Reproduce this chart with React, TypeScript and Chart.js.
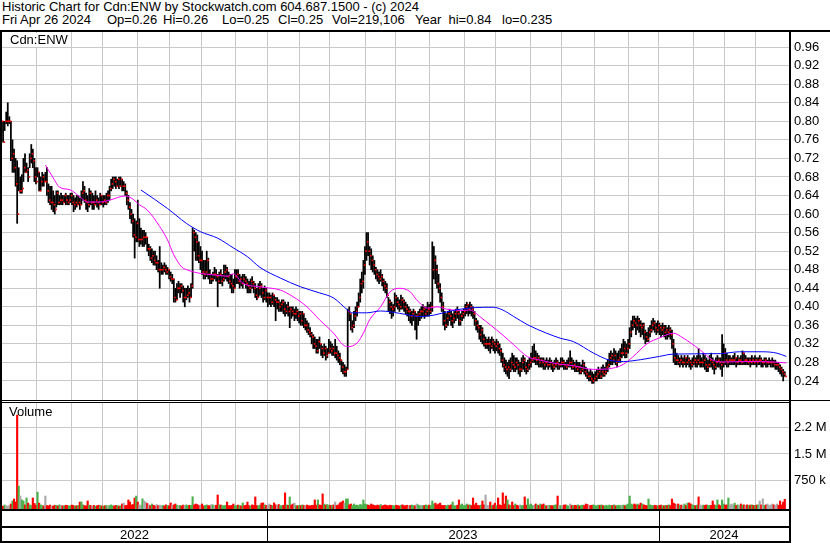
import React, { useEffect, useRef } from 'react';
import { Chart, registerables } from 'chart.js';

Chart.register(...registerables);

const FONT = '"Liberation Sans", Arial, sans-serif';
const GRID = '#c8c8c8';

// Daily bars, Apr 28 2022 .. Apr 26 2024 (index 0..500). Prices in cents.
const HIGH = [
  80,80,80,82,84,81,80,76,74,72,
  71.5,70,68,68.5,72,73,71,70,73,75,
  74,72,70,70,69,68,69,68.5,69,70,
  66.5,66,66,65,64,65,65,64,64.5,64,
  64,64.5,64,64,64.5,64.5,64,63.5,64,64,
  63.5,65,67,66,64.5,64,65.5,65,64.5,64,
  65,64,63.5,64.5,64,64,64,64.5,65,66,
  67.5,68,68,68,67.5,68,68,67.5,67,66.5,
  65,64,62.5,61,60,59,58.5,63,59,57,
  56.5,56.5,56,55,53.5,53,52.5,52,52,51,
  50,53,49.5,49,49.5,49,48.5,48,47.5,47,
  46,44,45,45.5,45,45,44.5,44,44,44.5,
  44,45,57,56.5,56,55.5,54,53,52,50,
  50,52,50.5,48,47,47.5,48.5,48,47,47.5,
  48,47,49,49,48.5,47.5,47,47,46,48,
  48,48,47,46.5,47,47,46.5,46,45.5,46,
  46.5,45.5,45,44,45,45.5,45,44,44.5,44,
  43,43,42.5,43,42.5,42,42,41.5,41,41.5,
  41.5,41,40.5,41,40,40,40,39.5,40,39.5,
  39,39,39,38.5,37.5,37,36.5,35.5,34.5,34,
  33.5,33,33,33.5,32,31.5,32,31.5,31,33,
  32.5,32,31.5,33,31.5,30.5,30,28.5,28,27.5,
  27,39.5,40,38.5,37,39,40,41,43,46,
  47.5,50,53,56,56,53,52.5,51,50,48.5,
  48,47.5,48,47,46,45.5,45,42,41.5,41,
  40.5,43,42.5,42,41.5,42.5,42,41.5,41,40.5,
  40,39.5,39,39.5,39,38.5,39,39.5,40,40.5,
  40,40,41,40.5,41,54,53,51,49,47,
  45,43,41,39,38.5,39,39.5,39,38.5,39,
  39.5,40,39,38.5,39,39.5,40.5,41,40.5,41,
  40.5,40,39,37.5,37,36,36,35.5,34,33.5,
  33,33.5,33,33.5,33,32.5,33,32.5,32,31,
  30,29,28.5,28,28.5,29,30,29.5,29,29,
  28.5,28,29,29.5,29,28,28.5,29,30,31.5,
  32,30.5,30,29.5,29,29,29,28.5,29,28.5,
  29,28.5,28,28.5,29,28.5,28,29,29,28.5,
  28,28.5,29,30.5,29,28.5,28,28.5,28,28,
  27.5,28.5,28,27,26.5,26,26.5,26,25.5,26,
  26.5,27,26.5,27,27.5,27,28,28.5,30,30.5,
  30,31,30.5,30,30.5,31,32,33,32.5,32,
  33,35.5,37,38,38,37.5,38,37.5,37,36.5,
  36.5,35,34.5,35.5,36,37,37.5,37,36.5,37,
  36.5,36,36.5,36,36,35.5,36,35.5,35,33,
  31,30,29.5,29,29.5,29,29.5,29,29.5,29,
  28.5,29,29.5,29,29.5,31,29.5,29,30,29.5,
  29,28.5,29.5,30,29,28.5,29,29.5,29,29,
  34,32,31,30,29.5,29.5,29,29.5,30,29,
  29.5,29,29.5,30.5,30,29.5,29,29,29,29.5,
  29,29.5,29,29,29.5,29,28.5,29,29,28.5,
  29,28.5,29,28.5,28.5,28,28,27.5,27,26.5,
  26,
];

const LOW = [
  77.5,75.5,78,79.5,79,79.5,71.5,69,69,66,
  58,65,64.5,64.5,67,69,69,67,70,71,
  70,67,66.5,68,65,65,66,66,67,64,
  62.5,62,61,60.5,60,61.5,62,62,62,62,
  62.5,62,62,62,62.5,62,60.5,61,61.5,62,
  61,62,63,62.5,61,60.5,61.5,62,61,61,
  62,61.5,61,62,62,61.5,62,62,62.5,63,
  65,65.5,66,65.5,66,65.5,66,65,65,64,
  62,61,59,58,55,50.5,54,54,53,53.5,
  53,53,53.5,52,51,50,49.5,49,49,48,
  47.5,44,47,47,47.5,47,47,46,45.5,45,
  41,41,41.5,43,42,43,41,40,41.5,42,
  41,42,44,52,50,50,49.5,48,47,46,
  46,46.5,46,45,45,45.5,46,45.5,40,45,
  45,44.5,45.5,46,45.5,45,44,43,43,44,
  45,45,44,44.5,44,45,44,43,43,43,
  44,43,42,41.5,42,42.5,42,41,41.5,41,
  40,40.5,40,40.5,40,37,39.5,39,39,39,
  38.5,38,38.5,38,35.5,37.5,38,37,37.5,37,
  36.5,36,36,35.5,35,34.5,34,33.5,32,31,
  31,30,30,31,29.5,29,29.5,28.5,29,30,
  30,29.5,29.5,29,28.5,28,27.5,26,25.5,25,
  25,26.5,37,35,34.5,35.5,37,38,40,41,
  43,44,47,50,51,49,48,47.5,47,46,
  45.5,45,45.5,44.5,43.5,43,42,39,38.5,37.5,
  38,39,40,39.5,39,39.5,39.5,39,38.5,38,
  37,36.5,36,37,35,33,36,37,37.5,38,
  37.5,38,38,38,38.5,39,46,45,44,43,
  41,39,36,35,35.5,36,37,36,35.5,36.5,
  37,37.5,36,36,37,37.5,38,38.5,38,38.5,
  38,37.5,36,35,34.5,33,32.5,32,31.5,31,
  31,30.5,30,31,30.5,30,30.5,30,29.5,28,
  27,26,25.5,25,24.5,26,26.5,26,26,26.5,
  25.5,25,26,26.5,26,25.5,26,26.5,27,28,
  28,27.5,27.5,27,27,27,26.5,26.5,27,26.5,
  27,26.5,26,26.5,27,26.5,26.5,27,27,26.5,
  26.5,26.5,27,27,26.5,26.5,26,26,26,25.5,
  25.5,26,25.5,25,24.5,24,24,23.5,23.5,24,
  24,24.5,24.5,24.5,25,25,25.5,26,27,27.5,
  27.5,28,27.5,27,28,28,29,29.5,29,29,
  30,31,33.5,35,35.5,34,35,34.5,33.5,34,
  33,32,32.5,32.5,33.5,34.5,35,34.5,34,34.5,
  34,33.5,34,33.5,33,33,33.5,33,31,28,
  27.5,27.5,27.5,27,27.5,27,27.5,27,27.5,27,
  26.5,27,27.5,27,27,27.5,27,27,27,26.5,
  26,26,27,27,26.5,25.5,26.5,27,27,26.5,
  25,27,27.5,27,27,27.5,27.5,27.5,27.5,27,
  27.5,27.5,27.5,27.5,27.5,27.5,27.5,27.5,27,27.5,
  27.5,27.5,27,27.5,27.5,27,27,27.5,27,27,
  27.5,27,27,27,26.5,26.5,26,25.5,25,24,
  25,
];

const CLOSE = [
  80,75.5,80,80,80,80,72,73,70,66.5,
  60,65,65,65.5,70,69,69.5,68,72,73,
  71.5,68,67,69,65,67,68,67,67,65,
  63,62.5,62.5,62,61,64.5,62.5,63,63,62.5,
  64,63,62.5,63,64,62.5,62,62.5,62,62.5,
  62,64.5,65,63,62.5,62,64.5,62.5,62.5,62,
  63,62.5,62,64,62.5,63,62.5,64,64,65.5,
  66.5,67.5,67,66,67.5,66,67.5,66,66,64.5,
  63,61.5,60,58.5,55.5,55,58,54.5,54.5,54.5,
  55,55,55,52.5,52.5,50.5,51,50,49.5,49.5,
  48,48,48,48.5,48,47.5,48,46.5,46,46,
  42,41.5,44,44,44.5,43.5,42,42,42.5,43,
  42,44.5,56,55,54,51,50,50,47.5,47,
  47.5,50,47,46,46,47,47,46.5,45.5,47,
  45.5,46,47.5,48,46.5,45.5,45,44.5,44,46.5,
  47,45.5,46,45,46,45.5,45,44.5,44,45.5,
  45,44,42.5,42,44,44.5,43,42,43.5,42,
  42,42,41,42.5,41.5,41,41,40,40.5,41,
  39.5,39,40,39,39.5,39,38.5,38.5,39,38,
  38.5,37,38.5,36,36,35,34.5,34,33.5,32,
  31.5,30.5,32.5,32,31,30,31,29.5,30,31,
  30.5,31,30,30,29.5,29,28.5,27,26,26,
  26.5,39,38.5,35.5,36,38,39,40,42,45,
  45.5,49,52,54,52,51,50,49,48,47,
  46.5,46,46.5,45.5,44.5,44,42.5,41,40,39.5,
  40,42,41,40.5,40,41.5,41,40,39.5,39,
  39,38,38.5,39,38,38,38.5,39,39,39.5,
  38.5,39,39.5,39,40,48,50,48,45,44,
  42,40,37,36,37.5,38.5,38,37,37.5,38.5,
  39,38.5,37,38,38.5,39,40,40.5,39.5,40,
  39.5,38.5,37,36,35.5,34,35,33,32,32,
  32,32,31.5,32.5,32,31.5,32,31,30.5,28.5,
  27.5,27,26.5,27,26.5,28,27.5,27,28,27.5,
  26.5,26.5,28,28.5,27,26.5,27.5,28,28.5,29,
  29,28.5,29,28,28.5,28,27.5,28,27.5,27.5,
  28,27.5,27,27.5,28,27.5,27.5,28,28,27.5,
  27,27.5,28,28,27,27.5,27,26.5,27,26,
  26.5,27.5,26,25.5,25,25,24.5,24,24.5,25,
  25.5,26,25,26,25.5,26,27,27.5,29,29.5,
  28.5,29.5,28,28.5,29,30,30,31,30,31,
  32,34.5,36,37,36.5,36,37,36,35.5,36,
  34.5,33.5,33,34.5,35,36,36.5,35.5,35,36,
  35.5,35,35.5,34.5,35,34.5,35,34,32,29,
  28.5,28.5,28,28.5,28,28,29,28,28.5,28,
  27.5,28,28.5,28,28.5,28,28,28,28.5,27.5,
  27,27.5,28.5,28,27.5,27,28,28.5,28,27.5,
  28,30,28.5,28,28.5,28.5,28.5,28.5,29,28,
  28.5,28.5,28,30,28.5,28.5,28,28.5,28,28.5,
  28,28.5,28,28.5,28.5,28,28,28.5,28,28,
  28,28,28,27.5,27.5,27.5,27,26.5,26,25.5,
  25,
];

// Daily volume, thousands of shares
const VOLUME_K = [
  35,25,57,30,28,40,85,170,226,140,
  2600,590,310,200,170,60,255,110,60,40,
  255,100,50,420,110,60,40,30,310,40,
  35,55,30,25,50,45,30,60,40,35,
  30,50,45,25,40,55,40,30,35,45,
  140,145,60,40,30,170,55,40,30,45,
  25,35,50,40,30,25,35,45,30,40,
  60,35,30,45,40,25,35,85,110,40,
  50,200,140,60,70,255,310,140,60,45,
  230,170,140,100,60,40,85,50,30,70,
  40,55,35,45,30,60,40,35,115,40,
  60,85,50,35,45,30,55,40,60,35,
  50,45,290,60,85,70,40,55,85,30,
  45,60,40,35,70,55,40,50,340,60,
  55,40,35,50,140,40,35,45,85,40,
  35,55,40,30,115,40,50,140,40,35,
  60,45,285,40,35,55,110,115,60,45,
  40,85,50,40,115,60,45,70,40,35,
  50,400,60,45,285,55,85,110,40,35,
  50,40,60,45,35,55,40,30,45,50,
  200,55,200,60,45,370,85,55,70,40,
  50,35,60,140,45,60,115,140,170,110,
  225,230,60,85,40,85,50,55,40,70,
  60,200,85,70,55,40,85,60,45,35,
  55,40,70,30,45,60,40,35,50,45,
  40,35,50,40,30,45,60,35,40,50,
  30,45,55,40,35,85,60,40,50,35,
  45,60,40,55,40,170,85,110,60,85,
  110,50,40,45,35,55,40,60,140,40,
  35,50,200,60,85,40,45,85,55,60,
  40,255,60,110,45,40,55,170,60,340,
  50,45,140,40,55,110,40,255,60,45,
  400,85,310,200,60,45,140,40,85,50,
  35,60,40,45,285,55,230,60,85,40,
  50,85,60,45,85,60,85,40,35,50,
  45,40,35,55,60,310,45,40,35,55,
  60,40,30,85,45,35,50,40,60,30,
  45,55,40,85,70,35,45,50,60,40,
  35,55,45,60,40,30,50,35,55,40,
  45,60,35,40,50,45,40,55,40,60,
  85,310,85,60,85,60,85,55,110,85,
  60,45,40,225,60,45,35,50,40,30,
  45,55,40,35,50,45,60,40,225,110,
  85,60,85,45,55,40,85,40,110,115,
  85,60,45,40,55,285,60,40,55,45,
  60,40,50,45,170,60,45,200,60,40,
  200,85,55,60,255,60,85,60,110,45,
  60,40,85,55,60,45,60,40,55,60,
  45,40,55,60,170,60,230,45,60,85,
  40,55,85,60,45,85,50,170,60,140,
  219,
];

// Moving averages (bar index, value in cents)
const MA_SHORT_IDX = [28,33,37,44,50,55,63,69,79,84,88,93,101,106,110,115,119,127,135,144,148,154,165,178,186,195,203,212,218,221,227,231,235,242,248,254,261,265,272,278,284,293,299,306,312,320,327,336,344,355,365,378,387,397,403,412,420,429,435,446,454,461,476,493,501];
const MA_SHORT_VAL = [70.6,67.8,65.8,65.2,63.7,62.6,62.6,63,63.9,63.2,62,60.9,57.3,54.4,51.2,48.6,47.9,47.2,46.9,46.6,47.1,45.1,44.3,43.6,42.2,40,37.2,34.3,31.8,31.4,32.2,34.3,37.2,40,43.2,44,43.2,41.5,39.7,40,39.5,39.2,39.3,37.7,36.1,33.9,31.8,29.2,28.5,27.7,27.3,26.5,26.6,27.6,29.2,32,33.3,34.3,33.3,30.7,28.5,28.1,28.2,28.1,27.9];
const MA_LONG_IDX = [89,106,118,127,138,148,157,165,178,191,203,212,221,224,233,242,254,267,276,288,301,314,320,327,336,348,357,365,378,388,397,408,420,429,459,471,486,495,501];
const MA_LONG_VAL = [65.2,61.2,58,56.2,54.8,52.7,50.8,48.5,46.2,44.3,43,41.9,39.3,38.7,38.7,39.1,38.6,37.9,38.2,39.2,39.8,39.9,39.3,37.9,36.1,34.3,33.2,32.5,30,28.5,28.2,28.6,29.3,29.8,29.9,30.3,30.3,30,29.3];

// Axis ticks
const MONTH_START_IDX = [23,45,65,87,108,128,150,170,191,210,233,252,274,296,316,338,358,379,401,420,442,462,482];
const YEAR_LABELS = ['2022', '2023', '2024'];
const YEAR_START_IDX = [0, 170, 420];
const PRICE_TICKS = [0.24,0.28,0.32,0.36,0.40,0.44,0.48,0.52,0.56,0.60,0.64,0.68,0.72,0.76,0.80,0.84,0.88,0.92,0.96];
const VOLUME_TICKS = [750000, 1500000, 2250000];
const VOLUME_TICK_LABELS = ['750 k', '1.5 M', '2.2 M'];

// Axis ranges
const X_MIN = 0.32;
const X_MAX = 502.7;
const PRICE_MIN = 0.199;
const PRICE_MAX = 0.9926;
const VOL_MIN = -56600;
const VOL_MAX = 2943000;

const HEADER_1 = 'Historic Chart for Cdn:ENW by Stockwatch.com 604.687.1500 - (c) 2024';
const HEADER_2_ITEMS = ['Fri Apr 26 2024', 'Op=0.26', 'Hi=0.26', 'Lo=0.25', 'Cl=0.25', 'Vol=219,106', 'Year  hi=0.84', 'lo=0.235'];
const HEADER_2_X = [2, 107, 163, 222, 278, 332, 415, 502];
const PRICE_LABEL = 'Cdn:ENW';
const VOLUME_LABEL = 'Volume';

const xScale = () => ({
  type: 'linear' as const,
  min: X_MIN,
  max: X_MAX,
  offset: false,
  afterBuildTicks: (a: any) => {
    a.ticks = MONTH_START_IDX.map((i) => ({ value: i - 0.5 }));
  },
  afterFit: (a: any) => {
    a.height = 0;
    a.paddingLeft = 0;
    a.paddingRight = 0;
  },
  ticks: { display: false },
  grid: { color: GRID, lineWidth: 1, drawTicks: false, offset: false },
  border: { display: false },
});

const yFit = (a: any) => {
  a.width = 41;
  a.paddingTop = 0;
  a.paddingBottom = 0;
};

const yearBandPlugin = {
  id: 'yearBand',
  afterDraw(chart: any) {
    const { ctx, chartArea } = chart;
    const x = chart.scales.x;
    const b = chartArea.bottom;
    const right = chartArea.right;
    ctx.save();
    ctx.fillStyle = '#000';
    ctx.fillRect(0, b, right, 2);
    ctx.fillRect(0, b + 17, right, 2);
    ctx.fillRect(0, b + 32, right, 2);
    const edges: number[] = YEAR_START_IDX.map((idx, k) =>
      k === 0 ? chartArea.left : Math.round(x.getPixelForValue(idx - 0.5))
    );
    edges.push(right);
    for (let k = 1; k < edges.length - 1; k++) {
      ctx.fillRect(edges[k], b + 2, 1, 30);
    }
    ctx.font = `13px ${FONT}`;
    ctx.textAlign = 'center';
    ctx.textBaseline = 'middle';
    ctx.fillStyle = '#000';
    YEAR_LABELS.forEach((lab, k) => {
      ctx.fillText(lab, (edges[k] + edges[k + 1]) / 2, b + 26);
    });
    ctx.restore();
  },
};

export default function App() {
  const priceRef = useRef<HTMLCanvasElement>(null);
  const volRef = useRef<HTMLCanvasElement>(null);

  useEffect(() => {
    document.body.style.margin = '0';
    const n = CLOSE.length;
    const idx = Array.from({ length: n }, (_, i) => i);
    const ranges = idx.map((i) => ({ x: i, y: [LOW[i] / 100, HIGH[i] / 100] }));
    const closes = idx.map((i) => ({ x: i + 0.8, y: CLOSE[i] / 100 }));
    const maShort = MA_SHORT_IDX.map((i, k) => ({ x: i, y: MA_SHORT_VAL[k] / 100 }));
    const maLong = MA_LONG_IDX.map((i, k) => ({ x: i, y: MA_LONG_VAL[k] / 100 }));

    const priceChart = new Chart(priceRef.current as HTMLCanvasElement, {
      type: 'bar',
      data: {
        datasets: [
          {
            type: 'line',
            data: maLong as any,
            borderColor: '#0000ff',
            borderWidth: 1,
            pointRadius: 0,
            pointHoverRadius: 0,
            cubicInterpolationMode: 'monotone',
            order: 0,
          } as any,
          {
            type: 'line',
            data: maShort as any,
            borderColor: '#ff00ff',
            borderWidth: 1,
            pointRadius: 0,
            pointHoverRadius: 0,
            cubicInterpolationMode: 'monotone',
            order: 1,
          } as any,
          {
            type: 'scatter',
            data: closes as any,
            pointStyle: 'rect',
            pointRadius: 1.15,
            pointHoverRadius: 0,
            backgroundColor: '#ff0000',
            borderWidth: 0,
            order: 2,
          } as any,
          {
            type: 'bar',
            data: ranges as any,
            backgroundColor: '#000000',
            barThickness: 1.1,
            order: 3,
          } as any,
        ],
      },
      options: {
        responsive: false,
        animation: false,
        events: [],
        layout: { autoPadding: false, padding: { left: 2, right: 0, top: 0, bottom: 0 } },
        plugins: {
          legend: { display: false },
          tooltip: { enabled: false },
          title: { display: false },
        },
        scales: {
          x: xScale() as any,
          y: {
            type: 'linear',
            position: 'right',
            min: PRICE_MIN,
            max: PRICE_MAX,
            afterBuildTicks: (a: any) => {
              a.ticks = PRICE_TICKS.map((v) => ({ value: v }));
            },
            afterFit: yFit,
            ticks: {
              callback: (v: any) => Number(v).toFixed(2),
              font: { family: FONT, size: 13 },
              color: '#000',
              padding: 5,
            },
            grid: { color: GRID, lineWidth: 1, drawTicks: false },
            border: { display: false },
          } as any,
        },
      } as any,
    });

    const volData = idx.map((i) => ({ x: i, y: [VOL_MIN, VOLUME_K[i] * 1000] }));
    const volColors = idx.map((i) => {
      if (i === 0) return '#aaaaaa';
      if (CLOSE[i] > CLOSE[i - 1]) return '#4cb04c';
      if (CLOSE[i] < CLOSE[i - 1]) return '#ff0000';
      return '#aaaaaa';
    });

    const volChart = new Chart(volRef.current as HTMLCanvasElement, {
      type: 'bar',
      data: {
        datasets: [
          {
            data: volData as any,
            backgroundColor: volColors,
            barThickness: 1.5,
          } as any,
        ],
      },
      options: {
        responsive: false,
        animation: false,
        events: [],
        layout: { autoPadding: false, padding: { left: 2, right: 0, top: 0, bottom: 34 } },
        plugins: {
          legend: { display: false },
          tooltip: { enabled: false },
          title: { display: false },
        },
        scales: {
          x: xScale() as any,
          y: {
            type: 'linear',
            position: 'right',
            min: VOL_MIN,
            max: VOL_MAX,
            afterBuildTicks: (a: any) => {
              a.ticks = VOLUME_TICKS.map((v) => ({ value: v }));
            },
            afterFit: yFit,
            ticks: {
              callback: (v: any) => {
                const k = VOLUME_TICKS.indexOf(Number(v));
                return k >= 0 ? VOLUME_TICK_LABELS[k] : '';
              },
              font: { family: FONT, size: 13 },
              color: '#000',
              padding: 5,
            },
            grid: { color: GRID, lineWidth: 1, drawTicks: false },
            border: { display: false },
          } as any,
        },
      } as any,
      plugins: [yearBandPlugin],
    });

    return () => {
      priceChart.destroy();
      volChart.destroy();
    };
  }, []);

  const abs = (s: React.CSSProperties): React.CSSProperties => ({ position: 'absolute', ...s });
  const line = (left: number, top: number, width: number, height: number) =>
    abs({ left, top, width, height, background: '#000' });

  return (
    <div
      style={{
        position: 'relative',
        width: 830,
        height: 543,
        background: '#fff',
        overflow: 'hidden',
        fontFamily: FONT,
        fontSize: 13,
        color: '#000',
      }}
    >
      <div style={abs({ left: 2, top: 0, lineHeight: '14px', whiteSpace: 'pre' })}>{HEADER_1}</div>
      {HEADER_2_ITEMS.map((t, k) => (
        <div key={k} style={abs({ left: HEADER_2_X[k], top: 13, lineHeight: '14px', whiteSpace: 'pre' })}>
          {t}
        </div>
      ))}

      <canvas ref={priceRef} width={830} height={368} style={abs({ left: 0, top: 32, width: 830, height: 368 })} />
      <canvas ref={volRef} width={830} height={140} style={abs({ left: 0, top: 403, width: 830, height: 140 })} />

      <div style={abs({ left: 9, top: 33, lineHeight: '14px', background: '#fff', padding: '0 1px' })}>{PRICE_LABEL}</div>
      <div style={abs({ left: 9, top: 405, lineHeight: '14px' })}>{VOLUME_LABEL}</div>

      <div style={line(0, 30, 830, 2)} />
      <div style={line(0, 30, 2, 513)} />
      <div style={line(789, 30, 2, 513)} />
      <div style={line(0, 400, 830, 1)} />
      <div style={line(0, 402, 789, 1)} />
    </div>
  );
}
